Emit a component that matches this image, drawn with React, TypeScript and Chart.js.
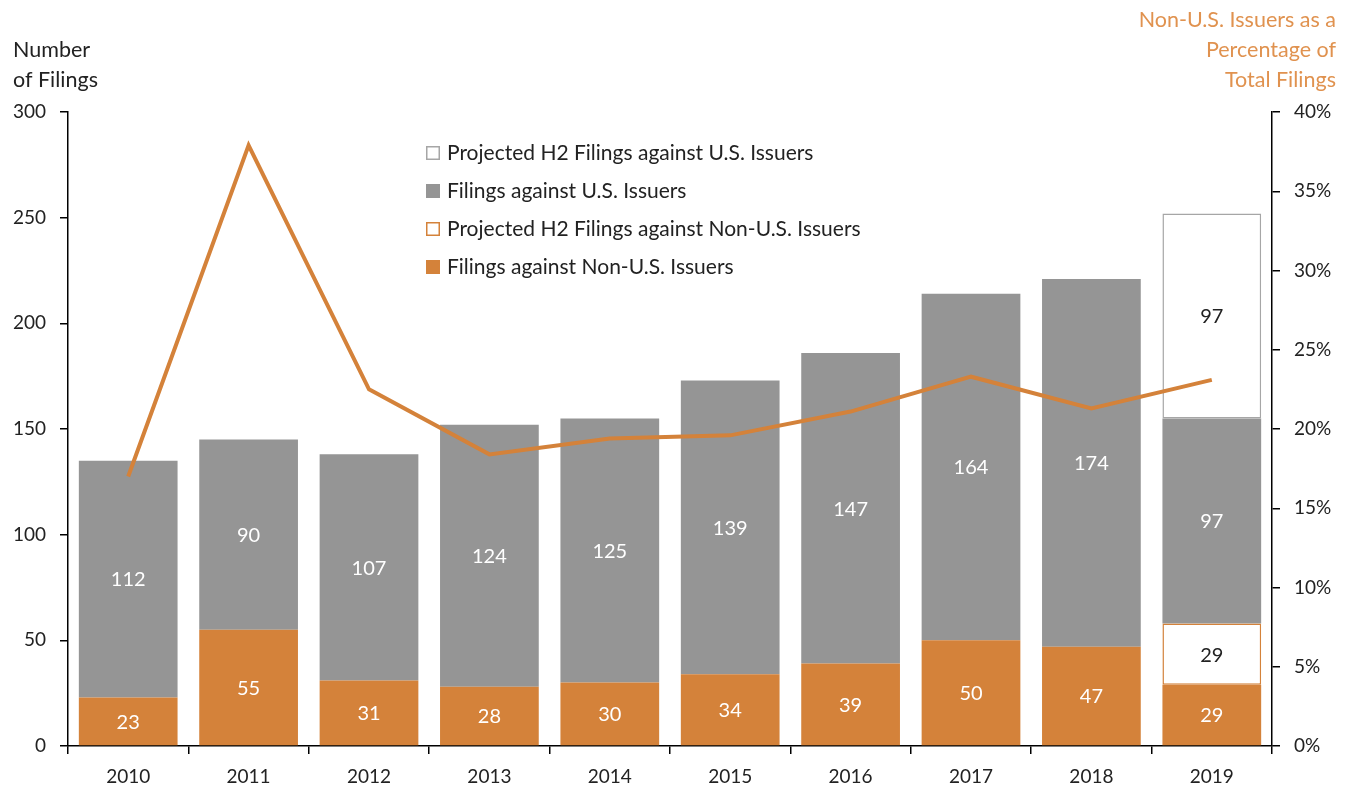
import React, { useEffect, useRef } from "react";
import { Chart, registerables } from "chart.js";

Chart.register(...registerables);

const years = ["2010", "2011", "2012", "2013", "2014", "2015", "2016", "2017", "2018", "2019"];
const nonUSFilings = [23, 55, 31, 28, 30, 34, 39, 50, 47, 29];
const projectedNonUS = [null, null, null, null, null, null, null, null, null, 29];
const usFilings = [112, 90, 107, 124, 125, 139, 147, 164, 174, 97];
const projectedUS = [null, null, null, null, null, null, null, null, null, 97];
const nonUSPercent = [17.0, 37.9, 22.5, 18.4, 19.4, 19.6, 21.1, 23.3, 21.3, 23.1];
const leftTicks = [0, 50, 100, 150, 200, 250, 300];
const rightTicks = [0, 5, 10, 15, 20, 25, 30, 35, 40];

const ORANGE = "#D4823A";
const GRAY = "#959595";
const FONT = "Lato";

const overlayPlugin = {
  id: "overlay",
  afterDatasetsDraw(chart: any) {
    const ctx = chart.ctx;
    ctx.save();
    ctx.font = `20px ${FONT}`;
    ctx.textAlign = "center";
    ctx.textBaseline = "middle";
    chart.data.datasets.forEach((ds: any, i: number) => {
      if (ds.type === "line") return;
      const meta = chart.getDatasetMeta(i);
      meta.data.forEach((bar: any, j: number) => {
        const v = ds.data[j];
        if (v == null) return;
        const p = bar.getProps(["x", "y", "base"], true);
        ctx.fillStyle = ds.labelColor;
        ctx.fillText(String(v), p.x, (p.y + p.base) / 2 + 1);
      });
    });
    ctx.restore();
  },
  afterDraw(chart: any) {
    const ctx = chart.ctx;
    ctx.save();
    ctx.font = `21.5px ${FONT}`;
    ctx.textBaseline = "middle";
    // left axis title
    ctx.fillStyle = "#222";
    ctx.textAlign = "left";
    ctx.fillText("Number", 13, 50);
    ctx.fillText("of Filings", 13, 80);
    // right axis title
    ctx.fillStyle = "#E0924F";
    ctx.textAlign = "right";
    ctx.fillText("Non-U.S. Issuers as a", 1336, 20);
    ctx.fillText("Percentage of", 1336, 50);
    ctx.fillText("Total Filings", 1336, 80);
    // legend
    ctx.font = `21px ${FONT}`;
    const items = [3, 2, 1, 0];
    const x0 = 426;
    const y0 = 153;
    items.forEach((di, k) => {
      const ds = chart.data.datasets[di];
      const cy = y0 + k * 38;
      ctx.fillStyle = ds.backgroundColor;
      ctx.fillRect(x0, cy - 7, 14, 14);
      ctx.strokeStyle = ds.legendBorder;
      ctx.lineWidth = 1.5;
      ctx.strokeRect(x0 + 0.75, cy - 6.25, 12.5, 12.5);
      ctx.fillStyle = "#222";
      ctx.textAlign = "left";
      ctx.fillText(ds.label, x0 + 21, cy);
    });
    ctx.restore();
  },
};

export default function App() {
  const ref = useRef<HTMLCanvasElement | null>(null);
  useEffect(() => {
    document.body.style.margin = "0";
    const canvas = ref.current!;
    const chart = new Chart(canvas, {
      type: "bar",
      data: {
        labels: years,
        datasets: [
          {
            type: "bar",
            label: "Filings against Non-U.S. Issuers",
            data: nonUSFilings,
            backgroundColor: ORANGE,
            borderWidth: 0,
            stack: "a",
            order: 2,
            labelColor: "#ffffff",
            legendBorder: ORANGE,
          } as any,
          {
            type: "bar",
            label: "Projected H2 Filings against Non-U.S. Issuers",
            data: projectedNonUS,
            backgroundColor: "#ffffff",
            borderColor: ORANGE,
            borderWidth: 1.5,
            borderSkipped: false,
            stack: "a",
            order: 2,
            labelColor: "#222222",
            legendBorder: ORANGE,
          } as any,
          {
            type: "bar",
            label: "Filings against U.S. Issuers",
            data: usFilings,
            backgroundColor: GRAY,
            borderWidth: 0,
            stack: "a",
            order: 2,
            labelColor: "#ffffff",
            legendBorder: GRAY,
          } as any,
          {
            type: "bar",
            label: "Projected H2 Filings against U.S. Issuers",
            data: projectedUS,
            backgroundColor: "#ffffff",
            borderColor: "#A6A6A6",
            borderWidth: 1.5,
            borderSkipped: false,
            stack: "a",
            order: 2,
            labelColor: "#222222",
            legendBorder: "#A6A6A6",
          } as any,
          {
            type: "line",
            label: "Non-U.S. Issuers as a Percentage of Total Filings",
            data: nonUSPercent,
            yAxisID: "y1",
            borderColor: ORANGE,
            borderWidth: 4,
            pointRadius: 0,
            tension: 0,
            order: 0,
          } as any,
        ],
      },
      options: {
        responsive: false,
        animation: false,
        devicePixelRatio: 1,
        layout: { padding: { top: 112, left: 0, right: 0, bottom: 0 } },
        datasets: { bar: { barPercentage: 0.82, categoryPercentage: 1 } } as any,
        plugins: {
          legend: { display: false },
          tooltip: { enabled: false },
        },
        scales: {
          x: {
            stacked: true,
            offset: true,
            grid: {
              display: true,
              offset: true,
              drawOnChartArea: false,
              drawTicks: true,
              tickLength: 8,
              color: "#000",
              lineWidth: 1.5,
            },
            border: { display: true, color: "#000", width: 1.5 },
            ticks: { color: "#222", font: { family: FONT, size: 19 }, padding: 11 },
            afterFit(scale: any) {
              scale.height = 43;
            },
          },
          y: {
            stacked: true,
            position: "left",
            min: 0,
            max: 300,
            afterBuildTicks(scale: any) {
              scale.ticks = leftTicks.map((v) => ({ value: v }));
            },
            grid: {
              drawOnChartArea: false,
              drawTicks: true,
              tickLength: 8,
              color: "#000",
              lineWidth: 1.5,
            },
            border: { display: true, color: "#000", width: 1.5 },
            ticks: { color: "#222", font: { family: FONT, size: 19 }, padding: 14 },
            afterFit(scale: any) {
              scale.width = 68;
            },
          },
          y1: {
            position: "right",
            min: 0,
            max: 40,
            afterBuildTicks(scale: any) {
              scale.ticks = rightTicks.map((v) => ({ value: v }));
            },
            grid: {
              drawOnChartArea: false,
              drawTicks: true,
              tickLength: 8,
              color: "#000",
              lineWidth: 1.5,
            },
            border: { display: true, color: "#000", width: 1.5 },
            ticks: {
              color: "#222",
              font: { family: FONT, size: 19 },
              padding: 14,
              callback: (v: any) => `${v}%`,
            },
            afterFit(scale: any) {
              scale.width = 76;
            },
          },
        },
      },
      plugins: [overlayPlugin],
    });
    return () => chart.destroy();
  }, []);
  return (
    <div style={{ width: 1348, height: 789 }}>
      <canvas ref={ref} width={1348} height={789} style={{ display: "block" }} />
    </div>
  );
}
